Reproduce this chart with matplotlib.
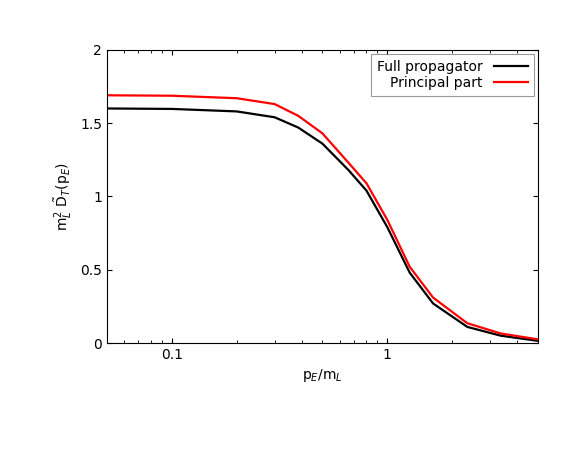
import matplotlib
matplotlib.use("Agg")
import matplotlib.pyplot as plt

p = [0.05, 0.1, 0.2, 0.3, 0.386, 0.5, 0.66, 0.80, 1.0, 1.27, 1.63, 2.35, 3.36, 5.0]
full = [1.60, 1.597, 1.58, 1.54, 1.47, 1.36, 1.18, 1.04, 0.79, 0.48, 0.27, 0.11, 0.05, 0.015]
principal = [1.69, 1.687, 1.67, 1.63, 1.55, 1.43, 1.23, 1.09, 0.84, 0.52, 0.31, 0.135, 0.065, 0.025]

fig = plt.figure(figsize=(5.81, 4.49), dpi=100)
ax = fig.add_axes([0.184, 0.236, 0.742, 0.653])
ax.plot(p, full, color="black", lw=1.6, label="Full propagator")
ax.plot(p, principal, color="red", lw=1.6, label="Principal part")
ax.set_xscale("log")
ax.set_xlim(0.05, 5)
ax.set_ylim(0, 2)
ax.set_yticks([0, 0.5, 1, 1.5, 2])
ax.set_yticklabels(["0", "0.5", "1", "1.5", "2"])
ax.set_xticks([0.1, 1])
ax.set_xticklabels(["0.1", "1"])
ax.tick_params(which="both", direction="in", top=True, right=True, labelsize=10)
ax.tick_params(which="minor", length=2.5)
ax.set_xlabel(r"p$_E$/m$_L$", fontsize=10)
ax.set_ylabel(r"m$^2_L$ $\tilde{\rm D}_T$(p$_E$)", fontsize=10)
leg = ax.legend(loc="upper right", markerfirst=False, fancybox=False,
                edgecolor="gray", fontsize=10, handlelength=2.5,
                borderaxespad=0.3, labelspacing=0.2)
leg.get_frame().set_linewidth(0.8)
fig.savefig("out.png", dpi=100)
